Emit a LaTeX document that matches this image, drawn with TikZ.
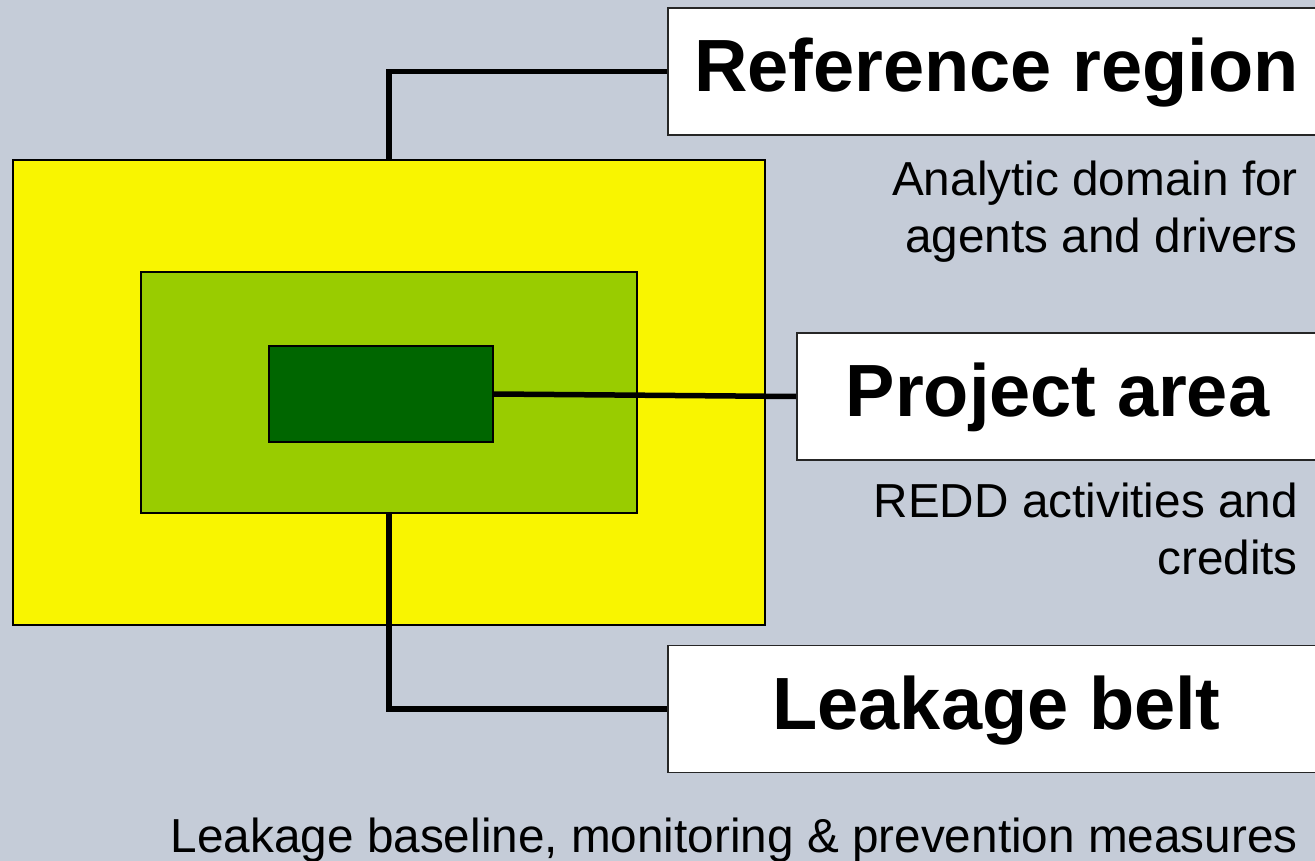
\documentclass[tikz,border=0pt]{standalone}
\usepackage{fontspec}
\setmainfont{Liberation Sans}
\definecolor{bgc}{HTML}{C5CCD8}
\definecolor{yel}{HTML}{F9F500}
\definecolor{lgreen}{HTML}{99CC00}
\definecolor{dgreen}{HTML}{006600}
\begin{document}
\begin{tikzpicture}[x=1pt,y=-1pt,
  area/.style={draw=black, line width=1.5pt, inner sep=0pt},
  titlebox/.style={draw=black!85, line width=1.8pt, fill=white, inner sep=0pt,
    minimum height=127pt, text height=53pt, text depth=13pt,
    font=\bfseries\fontsize{74}{80}\selectfont},
  subtext/.style={inner sep=0pt, align=right, font=\fontsize{47.7}{57}\selectfont},
  conn/.style={draw=black, line width=5.5pt}]
\fill[bgc] (0,0) rectangle (1315,861);
\useasboundingbox (0,0) rectangle (1315,861);
% nested areas
\node[area, fill=yel, minimum width=752pt, minimum height=465pt] (ref) at (389,392.5) {};
\node[area, fill=lgreen, minimum width=496pt, minimum height=241pt] (leak) at (389,392.5) {};
\node[area, fill=dgreen, minimum width=224pt, minimum height=96pt] (proj) at (381,394) {};
% title boxes
\node[titlebox, minimum width=657pt] (refbox) at (996.5,71.5) {Reference region};
\node[titlebox, minimum width=521pt] (projbox) at (1057.5,396.5) {Project area};
\node[titlebox, minimum width=657pt] (leakbox) at (996.5,709) {Leakage belt};
% subtitles
\node[subtext, anchor=north east] (refsub) at (1298,161) {Analytic domain for\\agents and drivers};
\node[subtext, anchor=north east] (projsub) at (1298,483) {REDD activities and\\credits};
\node[subtext, anchor=base east] (leaksub) at (1298,852) {Leakage baseline, monitoring \& prevention measures};
% connectors
\draw[conn] (ref.north) |- (refbox.west);
\draw[conn] (proj.east) -- (projbox.west);
\draw[conn] (leak.south) |- (leakbox.west);
\end{tikzpicture}
\end{document}
